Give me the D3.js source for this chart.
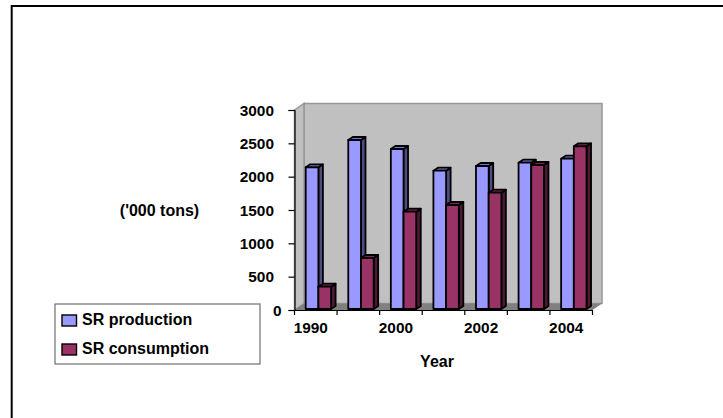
<!DOCTYPE html>
<html>
<head>
<meta charset="utf-8">
<script src="https://cdn.jsdelivr.net/npm/d3@7"></script>
<style>
  html, body { margin: 0; padding: 0; background: #fff; }
  svg { display: block; }
  text { font-family: "Liberation Sans", Arial, sans-serif; font-weight: bold; font-size: 15.4px; fill: #000; }
  .big { font-size: 16px; }
</style>
</head>
<body>
<svg id="chart" width="723" height="418"></svg>
<script>
const years = ["1990", "1995", "2000", "2001", "2002", "2003", "2004"];
const yearLabels = ["1990", "2000", "2002", "2004"];
const production = [2140, 2550, 2415, 2090, 2160, 2210, 2270];
const consumption = [350, 780, 1475, 1575, 1760, 2175, 2455];
const yTicks = [0, 500, 1000, 1500, 2000, 2500, 3000];

const PLOT = { left: 294.5, right: 592.5, top: 110, bottom: 310 };
const WALL_DX = 9.5;
const WALL_DY = 6.5;
const BAR_DX = 4.5;
const BAR_DY = 3;

const series = [
  { name: "SR production", values: production, front: "#9999ff", top: "#7a7acc", side: "#4d4d80" },
  { name: "SR consumption", values: consumption, front: "#993366", top: "#7a2952", side: "#4d1933" }
];

const svg = d3.select("#chart");

const x = d3.scaleBand().domain(years).range([PLOT.left, PLOT.right]);
const y = d3.scaleLinear().domain([0, 3000]).range([PLOT.bottom, PLOT.top]);
const xGroup = d3.scaleBand().domain([0, 1]).range([0, 25.4]);
const groupOffset = 11.2;

// outer frame, only top and left are visible
svg.append("path")
  .attr("d", "M11.7,418V6H723")
  .attr("fill", "none")
  .attr("stroke", "#000")
  .attr("stroke-width", 2);

// walls and floor
const wall = svg.append("g").attr("stroke", "#969696").attr("stroke-width", 1.5);
const poly = (g, pts, fill) => g.append("polygon").attr("points", pts.map((p) => p.join(",")).join(" ")).attr("fill", fill);

poly(wall, [
  [PLOT.left + WALL_DX, y(3000) - WALL_DY],
  [PLOT.right + WALL_DX, y(3000) - WALL_DY],
  [PLOT.right + WALL_DX, y(0) - WALL_DY],
  [PLOT.left + WALL_DX, y(0) - WALL_DY]
], "#c0c0c0");
poly(wall, [
  [PLOT.left, y(3000)],
  [PLOT.left + WALL_DX, y(3000) - WALL_DY],
  [PLOT.left + WALL_DX, y(0) - WALL_DY],
  [PLOT.left, y(0)]
], "#c0c0c0");
poly(svg, [
  [PLOT.left, y(0)],
  [PLOT.left + WALL_DX, y(0) - WALL_DY],
  [PLOT.right + WALL_DX, y(0) - WALL_DY],
  [PLOT.right, y(0)]
], "#808080");

// bars
const bars = svg.append("g").attr("stroke", "#000").attr("stroke-width", 1.8).attr("stroke-linejoin", "round");
years.forEach((year, i) => {
  series.forEach((s, k) => {
    const x0 = x(year) + groupOffset + xGroup(k);
    const x1 = x0 + xGroup.bandwidth();
    const yTop = y(s.values[i]);
    const yBase = y(0) - 1;
    poly(bars, [[x1, yTop], [x1 + BAR_DX, yTop - BAR_DY], [x1 + BAR_DX, yBase - BAR_DY], [x1, yBase]], s.side);
    poly(bars, [[x0, yTop], [x0 + BAR_DX, yTop - BAR_DY], [x1 + BAR_DX, yTop - BAR_DY], [x1, yTop]], s.top);
    bars.append("rect")
      .attr("x", x0)
      .attr("y", yTop)
      .attr("width", x1 - x0)
      .attr("height", yBase - yTop)
      .attr("fill", s.front);
  });
});

// y axis
const yAxis = svg.append("g")
  .attr("transform", `translate(${PLOT.left},0)`)
  .call(d3.axisLeft(y).tickValues(yTicks).tickSize(6).tickPadding(14.5).tickFormat(d3.format("d")));
yAxis.selectAll("text").attr("font-size", null).attr("font-family", null).attr("dy", "0.34em");
yAxis.selectAll(".tick").filter((d) => d === 0).select("text").attr("x", -13);
yAxis.selectAll("line").attr("stroke-width", 1.2);
yAxis.select(".domain").attr("stroke-width", 1.2);

// x axis, ticks sit on the category boundaries
const xAxis = svg.append("g")
  .attr("transform", `translate(0,${PLOT.bottom})`)
  .call(d3.axisBottom(x).tickValues(yearLabels).tickSize(0).tickPadding(12.5));
xAxis.selectAll("text").attr("font-size", null).attr("font-family", null).attr("dx", -5);
xAxis.select(".domain").attr("stroke-width", 1.2);
xAxis.selectAll("line.boundary")
  .data([years[0], ...years])
  .join("line")
  .attr("class", "boundary")
  .attr("x1", (d, i) => x(d) + (i ? x.step() : 0))
  .attr("x2", (d, i) => x(d) + (i ? x.step() : 0))
  .attr("y1", 0)
  .attr("y2", 5)
  .attr("stroke", "#000")
  .attr("stroke-width", 1.2);

// axis titles
svg.append("text").attr("class", "big").attr("x", 159.5).attr("y", 215.5).attr("text-anchor", "middle").text("('000 tons)");
svg.append("text").attr("class", "big").attr("x", 437).attr("y", 366.5).attr("text-anchor", "middle").text("Year");

// legend
const legend = svg.append("g").attr("transform", "translate(55,304)");
legend.append("rect")
  .attr("width", 205)
  .attr("height", 60)
  .attr("fill", "#fff")
  .attr("stroke", "#6e6e6e")
  .attr("stroke-width", 1.2);
const legendRow = legend.selectAll("g.row")
  .data(series)
  .join("g")
  .attr("class", "row")
  .attr("transform", (d, i) => `translate(7,${11 + i * 29})`);
legendRow.append("rect")
  .attr("width", 14.5)
  .attr("height", 11)
  .attr("fill", (d) => d.front)
  .attr("stroke", "#000")
  .attr("stroke-width", 1.4);
legendRow.append("text")
  .attr("class", "big")
  .attr("x", 20)
  .attr("y", 10)
  .text((d) => d.name);
</script>
</body>
</html>
